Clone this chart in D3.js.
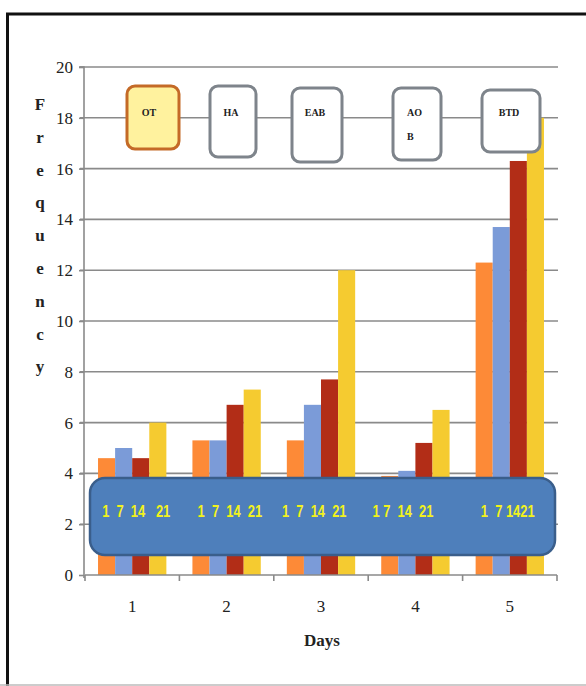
<!DOCTYPE html>
<html>
<head>
<meta charset="utf-8">
<script src="https://cdn.jsdelivr.net/npm/d3@7"></script>
<style>
  html, body { margin: 0; padding: 0; background: #fff; }
  svg { display: block; }
</style>
</head>
<body>
<svg id="chart" width="586" height="686"></svg>
<script>
// Days on the x axis and the four series (days of storage)
const days = ["1", "2", "3", "4", "5"];
const series = ["1", "7", "14", "21"];
const seriesColors = ["#FD8A37", "#7B9BD8", "#B22D17", "#F5CB30"];

// Frequency per day, one array per series
const s1 = [4.6, 5.3, 5.3, 3.9, 12.3];
const s7 = [5.0, 5.3, 6.7, 4.1, 13.7];
const s14 = [4.6, 6.7, 7.7, 5.2, 16.3];
const s21 = [6.0, 7.3, 12.0, 6.5, 18.0];
const seriesValues = [s1, s7, s14, s21];

const yTicks = [0, 2, 4, 6, 8, 10, 12, 14, 16, 18, 20];

// Callout boxes across the top of the plot
const calloutLabels = [["OT"], ["HA"], ["EAB"], ["AO", "B"], ["BTD"]];

// Series labels written inside the banner, one string per day
const bannerLabels = ["1  7  14   21", "1  7  14  21", "1  7  14  21", "1 7  14  21", "1  7 1421"];

const svg = d3.select("#chart");

const plot = { left: 85, right: 557, top: 67, bottom: 575 };

const y = d3.scaleLinear().domain([0, 20]).range([plot.bottom, plot.top]);
const x0 = d3.scaleBand().domain(days).range([plot.left, plot.right]).padding(0);
const bw = x0.bandwidth();
const x1 = d3.scaleBand().domain(series).range([bw * 0.138, bw * 0.862]).padding(0);

// Outer frame
svg.append("line").attr("x1", 7.5).attr("x2", 7.5).attr("y1", 13).attr("y2", 686)
  .attr("stroke", "#111").attr("stroke-width", 3);
svg.append("line").attr("x1", 6).attr("x2", 586).attr("y1", 14).attr("y2", 14)
  .attr("stroke", "#111").attr("stroke-width", 3);
svg.append("line").attr("x1", 0).attr("x2", 586).attr("y1", 685).attr("y2", 685)
  .attr("stroke", "#bbb").attr("stroke-width", 1.5);

// Horizontal gridlines
svg.append("g").selectAll("line").data(yTicks.filter(d => d > 0)).join("line")
  .attr("x1", plot.left - 5).attr("x2", plot.right + 1)
  .attr("y1", d => y(d)).attr("y2", d => y(d))
  .attr("stroke", "#8a8a8a").attr("stroke-width", 1.6);

// Y axis
const yAxis = d3.axisLeft(y).tickValues(yTicks).tickSize(5).tickPadding(6);
const gy = svg.append("g").attr("transform", `translate(${plot.left - 1},0)`).call(yAxis);
gy.select(".domain").attr("stroke", "#8a8a8a").attr("stroke-width", 1.6)
  .attr("d", `M-5,${y(20)}H0V${plot.bottom + 3}`);
gy.selectAll(".tick line").attr("stroke", "#8a8a8a").attr("stroke-width", 1.6);
gy.selectAll(".tick text")
  .attr("font-family", "Liberation Serif, serif").attr("font-size", 17)
  .attr("fill", "#222");

// Bars
const groups = svg.append("g").selectAll("g").data(days).join("g")
  .attr("transform", d => `translate(${x0(d)},0)`);
groups.selectAll("rect")
  .data((d, i) => series.map((s, k) => ({ s, k, v: seriesValues[k][i] })))
  .join("rect")
  .attr("x", d => x1(d.s))
  .attr("width", x1.bandwidth())
  .attr("y", d => y(d.v))
  .attr("height", d => y(0) - y(d.v))
  .attr("fill", d => seriesColors[d.k]);

// X axis
const xAxis = d3.axisBottom(x0).tickSize(0).tickPadding(25);
const gx = svg.append("g").attr("transform", `translate(0,${plot.bottom})`).call(xAxis);
gx.select(".domain").attr("stroke", "#8a8a8a").attr("stroke-width", 1.6)
  .attr("d", `M${plot.left},0H${plot.right}`);
gx.selectAll(".tick text")
  .attr("font-family", "Liberation Serif, serif").attr("font-size", 17)
  .attr("fill", "#222");
// Category boundary ticks
const bounds = days.map(d => x0(d)).concat([plot.right]);
gx.append("g").selectAll("line").data(bounds).join("line")
  .attr("x1", d => d).attr("x2", d => d).attr("y1", 0).attr("y2", 6)
  .attr("stroke", "#8a8a8a").attr("stroke-width", 1.6);

// Axis titles
svg.append("text").attr("x", (plot.left + plot.right) / 2 + 1).attr("y", 646)
  .attr("text-anchor", "middle")
  .attr("font-family", "Liberation Serif, serif").attr("font-weight", "bold")
  .attr("font-size", 17).attr("fill", "#222").text("Days");

const yTitle = svg.append("text")
  .attr("font-family", "Liberation Serif, serif").attr("font-weight", "bold")
  .attr("font-size", 17).attr("fill", "#222").attr("text-anchor", "middle");
"Frequency".split("").forEach((ch, i) => {
  yTitle.append("tspan").attr("x", 40).attr("y", 110 + i * 32.8).text(ch);
});

// Blue banner carrying the series labels
svg.append("rect")
  .attr("x", 90).attr("y", 478).attr("width", 465).attr("height", 77)
  .attr("rx", 15).attr("ry", 15)
  .attr("fill", "#4E7FBB").attr("stroke", "#3A5E8B").attr("stroke-width", 2.5);
const bannerShift = [-30, -29, -39, -43, -29];
svg.append("g").selectAll("text").data(bannerLabels).join("text")
  .attr("transform", (d, i) =>
    `translate(${x0(days[i]) + bw / 2 + bannerShift[i]},517) scale(0.86,1.1)`)
  .attr("xml:space", "preserve")
  .style("white-space", "pre")
  .attr("font-family", "Liberation Sans, sans-serif")
  .attr("font-weight", "bold").attr("font-size", 15)
  .attr("fill", "#F2F21C")
  .text(d => d);

// Callout boxes
const calloutBoxes = [
  { x: 127, y: 86, w: 52, h: 63, fill: "#FFF29E", stroke: "#C46A27" },
  { x: 210, y: 86, w: 46, h: 71, fill: "#fff", stroke: "#7E848B" },
  { x: 292, y: 88, w: 50, h: 74, fill: "#fff", stroke: "#7E848B" },
  { x: 393, y: 88, w: 48, h: 72, fill: "#fff", stroke: "#7E848B" },
  { x: 482, y: 90, w: 58, h: 62, fill: "#fff", stroke: "#7E848B" }
];
const cg = svg.append("g").selectAll("g").data(calloutLabels).join("g");
cg.append("rect")
  .attr("x", (d, i) => calloutBoxes[i].x).attr("y", (d, i) => calloutBoxes[i].y)
  .attr("width", (d, i) => calloutBoxes[i].w).attr("height", (d, i) => calloutBoxes[i].h)
  .attr("rx", 8).attr("ry", 8)
  .attr("fill", (d, i) => calloutBoxes[i].fill)
  .attr("stroke", (d, i) => calloutBoxes[i].stroke).attr("stroke-width", 3);
cg.each(function (lines, i) {
  const b = calloutBoxes[i];
  const t = d3.select(this).append("text")
    .attr("font-family", "Liberation Serif, serif").attr("font-weight", "bold")
    .attr("font-size", 10).attr("fill", "#222");
  lines.forEach((ln, j) => {
    t.append("tspan")
      .attr("x", b.x + (i === 3 ? 14 : b.w / 2 - (i === 0 ? 4 : 2)))
      .attr("text-anchor", i === 3 ? "start" : "middle")
      .attr("y", 116 + j * 24).text(ln);
  });
});
</script>
</body>
</html>
